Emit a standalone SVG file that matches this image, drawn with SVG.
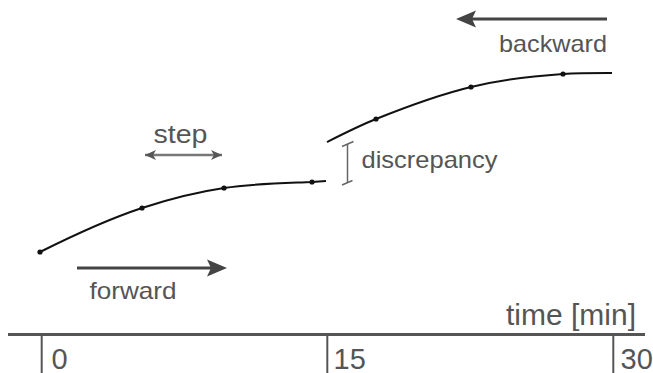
<svg xmlns="http://www.w3.org/2000/svg" width="653" height="373" viewBox="0 0 653 373">
<style>
  .lbl { font-family: "Liberation Sans", Arial, Helvetica, sans-serif; fill: #555; }
  .curve { fill: none; stroke: #111; stroke-width: 2; }
  .dot { fill: #111; }
  .arr { stroke: #444; stroke-width: 3; fill: none; }
  .head { fill: #444; }
  .axis { stroke: #555; stroke-width: 3; fill: none; }
  .tick { stroke: #555; stroke-width: 2; fill: none; }
</style>
<defs>
  <marker id="stepHead" markerUnits="userSpaceOnUse" markerWidth="12" markerHeight="12" refX="11" refY="6" orient="auto-start-reverse" viewBox="0 0 12 12">
    <path d="M0,1 L11,6 L0,11 L3,6 z" fill="#555"/>
  </marker>
</defs>
<rect width="653" height="373" fill="#fff"/>

<g id="connectors">
  <!-- backward arrow -->
  <g id="backward-arrow">
    <line class="arr" x1="607" y1="19" x2="470" y2="19"/>
    <path class="head" d="M456,19 L476,10.5 L472,19 L476,27.5 z"/>
  </g>
  <!-- forward arrow -->
  <g id="forward-arrow">
    <line class="arr" x1="77" y1="268" x2="212" y2="268"/>
    <path class="head" d="M227,268 L207,259.5 L211,268 L207,276.5 z"/>
  </g>
  <!-- step double arrow -->
  <g id="step-arrow">
    <line x1="145" y1="155" x2="222" y2="155" stroke="#777" stroke-width="2.5" marker-start="url(#stepHead)" marker-end="url(#stepHead)"/>
  </g>
  <!-- discrepancy marker -->
  <g id="discrepancy-marker" stroke="#666" stroke-width="1.5" fill="none">
    <line x1="347.5" y1="144" x2="347.5" y2="183"/>
    <line x1="342" y1="146.5" x2="353.5" y2="141.5"/>
    <line x1="342" y1="185" x2="352.5" y2="180.5"/>
  </g>
</g>

<g id="curve-forward">
  <path class="curve" d="M40,252 C74,235 108,219.2 142,208 C169.3,199 196.7,192.1 224,188 C253.3,183.6 282.7,183.2 312,182 L326,181"/>
  <circle class="dot" cx="40" cy="252" r="2.6"/>
  <circle class="dot" cx="142" cy="208" r="2.6"/>
  <circle class="dot" cx="224" cy="188" r="2.6"/>
  <circle class="dot" cx="312" cy="182" r="2.6"/>
</g>

<g id="curve-backward">
  <path class="curve" d="M327,142 C343.3,133.8 359.7,125.5 376,119 C407.7,106.3 439.3,94.6 471,87 C501.7,79.6 532.3,76.1 563,74 C579.3,72.9 595.7,73 612,73"/>
  <circle class="dot" cx="376" cy="119" r="2.6"/>
  <circle class="dot" cx="471" cy="87" r="2.6"/>
  <circle class="dot" cx="563" cy="74" r="2.6"/>
</g>

<g id="label-backward"><text class="lbl" x="499" y="51.5" font-size="24" textLength="108" lengthAdjust="spacingAndGlyphs">backward</text></g>
<g id="label-forward"><text class="lbl" x="89.5" y="299" font-size="24" textLength="87" lengthAdjust="spacingAndGlyphs">forward</text></g>
<g id="label-step"><text class="lbl" x="153.5" y="143.3" font-size="25" textLength="54" lengthAdjust="spacingAndGlyphs">step</text></g>
<g id="label-discrepancy"><text class="lbl" x="361.5" y="168.3" font-size="24" textLength="136" lengthAdjust="spacingAndGlyphs">discrepancy</text></g>

<g id="time-axis">
  <line class="axis" x1="8" y1="334.5" x2="645" y2="334.5"/>
  <line class="tick" x1="41.7" y1="334.5" x2="41.7" y2="373"/>
  <line class="tick" x1="327.3" y1="334.5" x2="327.3" y2="373"/>
  <line class="tick" x1="613.3" y1="334.5" x2="613.3" y2="373"/>
  <text class="lbl" x="506" y="324.5" font-size="30" textLength="130" lengthAdjust="spacingAndGlyphs">time [min]</text>
  <text class="lbl" x="51.5" y="369.3" font-size="29">0</text>
  <text class="lbl" x="333.5" y="369.3" font-size="29">15</text>
  <text class="lbl" x="620.5" y="369.3" font-size="29">30</text>
</g>
</svg>
